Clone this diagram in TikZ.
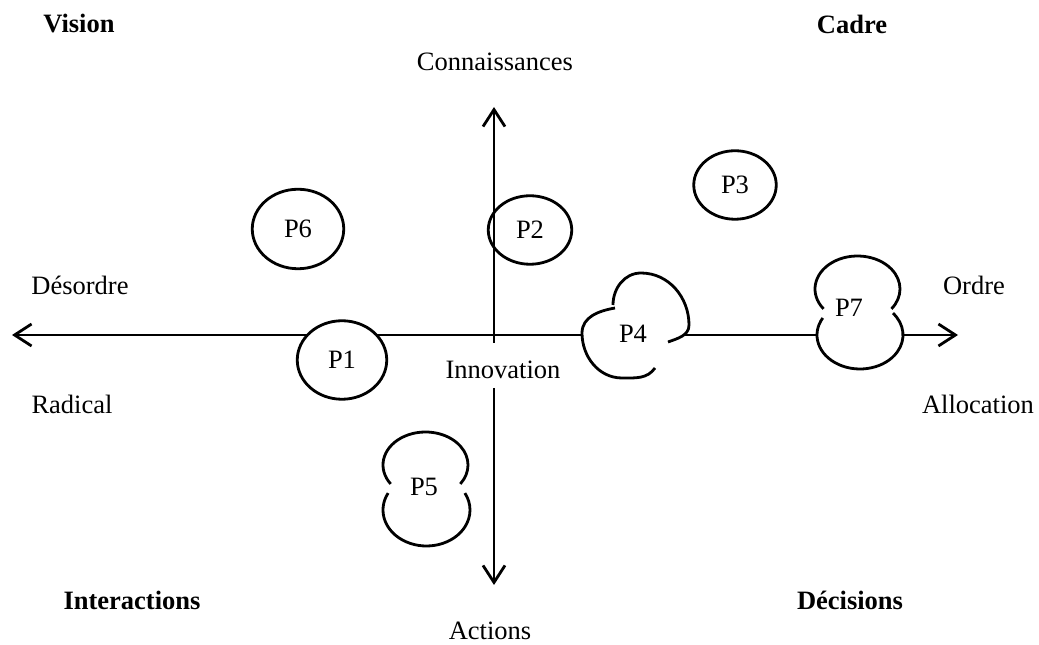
\documentclass[tikz,border=0pt]{standalone}
\usepackage{fontspec}
\setmainfont{Liberation Serif}
\usetikzlibrary{arrows.meta,shapes.geometric}

\begin{document}
\begin{tikzpicture}[x=1pt,y=1pt,
    every node/.style={font=\fontsize{26.5}{30}\selectfont},
    titolo/.style={font=\fontsize{26.5}{30}\selectfont\bfseries},
    asse/.style={line width=2.8pt},
    punta/.style={-{Straight Barb[length=17pt,width=22pt]}},
    bordo/.style={line width=2.8pt},
    polo/.style={ellipse,draw,line width=2.8pt,inner sep=0pt}]
    \useasboundingbox (0,0) rectangle (1039,645);

    % Assi
    \coordinate (ovest) at (12,310);
    \coordinate (est) at (958,310);
    \coordinate (nord) at (494,538);
    \coordinate (sud) at (494,60);
    \coordinate (centro) at (494,302);
    \coordinate (sotto) at (494,257);
    \draw[asse,{Straight Barb[length=17pt,width=22pt]}-{Straight Barb[length=17pt,width=22pt]}] (ovest) -- (est);
    \draw[asse,punta] (centro) -- (nord);
    \draw[asse,punta] (sotto) -- (sud);

    % Ellissi
    \node[polo,fill=white,minimum width=89.5pt,minimum height=78.5pt] (p1) at (342,285) {P1};
    \node[polo,minimum width=83.5pt,minimum height=68.5pt] (p2) at (530,415) {P2};
    \node[polo,minimum width=82.5pt,minimum height=68.5pt] (p3) at (735,460) {P3};
    \node[polo,minimum width=91.5pt,minimum height=79.5pt] (p6) at (298,416) {P6};

    % P4
    \fill[white] (613,340) to[out=90,in=180] (641,372) to[out=0,in=90] (689,320)
        to[out=-90,in=20] (668,303) -- (655,277) to[out=-125,in=0] (622,267)
        to[out=180,in=-90] (582,312) to[out=90,in=190] (615,337) -- cycle;
    \draw[bordo] (613,340) to[out=90,in=180] (641,372) to[out=0,in=90] (689,320) to[out=-90,in=20] (668,303);
    \draw[bordo] (615,337) to[out=190,in=90] (582,312) to[out=-90,in=180] (622,267) to[out=0,in=-125] (655,277);
    \node (p4) at (633,311) {P4};

    % P5
    \draw[bordo] (425.5,180) ++(215:42.5 and 33) arc[start angle=215,end angle=-35,x radius=42.5,y radius=33];
    \draw[bordo] (426.5,135) ++(152:43.5 and 36) arc[start angle=152,end angle=388,x radius=43.5,y radius=36];
    \node (p5) at (424,158) {P5};

    % P7
    \fill[white] (857.5,355) ellipse[x radius=42.5,y radius=33];
    \fill[white] (860,310) ellipse[x radius=43,y radius=34];
    \draw[bordo] (857.5,356) ++(217:42.5 and 33) arc[start angle=217,end angle=-37,x radius=42.5,y radius=33];
    \draw[bordo] (860,310) ++(150:43 and 34) arc[start angle=150,end angle=400,x radius=43,y radius=34];
    \node (p7) at (849,337) {P7};

    % Etichette
    \node[titolo] (visione) at (79,621) {Vision};
    \node[titolo] (quadro) at (852,621) {Cadre};
    \node[titolo] (interazioni) at (132,45) {Interactions};
    \node[titolo] (decisioni) at (850,45) {Décisions};
    \node (conoscenze) at (495,583) {Connaissances};
    \node (azioni) at (490,14) {Actions};
    \node (disordine) at (80,360) {Désordre};
    \node (ordine) at (974,360) {Ordre};
    \node (radicale) at (72,241) {Radical};
    \node (allocazione) at (978,241) {Allocation};
    \node (innovazione) at (503,275) {Innovation};
\end{tikzpicture}
\end{document}
